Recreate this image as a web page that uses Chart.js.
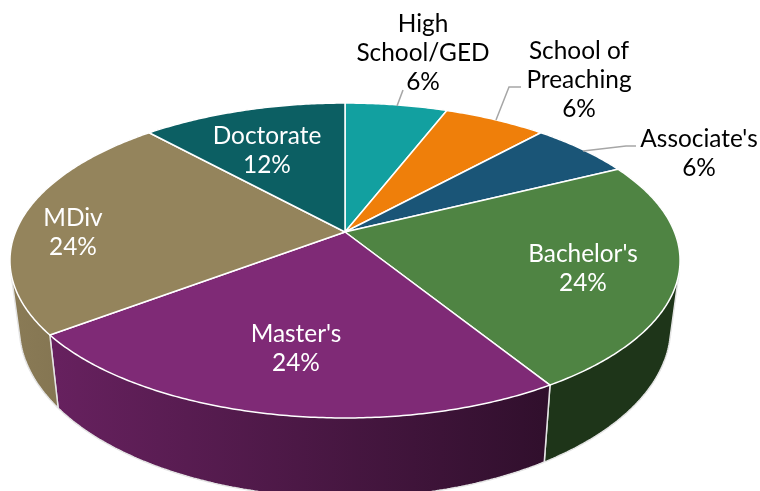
<!DOCTYPE html>
<html lang="en">
  <head>
    <meta charset="UTF-8" />
    <title>Degrees</title>
    <script src="https://cdn.jsdelivr.net/npm/chart.js@4"></script>
    <style>
      html, body { margin: 0; padding: 0; background: #fff; overflow: hidden; }
      #wrap { width: 760px; height: 491px; }
    </style>
  </head>
  <body>
    <div id="wrap"><canvas id="chart" width="760" height="491"></canvas></div>
    <script>
      const categories = ["High\nSchool/GED", "School of\nPreaching", "Associate's", "Bachelor's", "Master's", "MDiv", "Doctorate"];
      const values = [1, 1, 1, 4, 4, 4, 2];
      const topColors = ["#12a0a0", "#ef7f0a", "#1a5577", "#4f8443", "#7f2a76", "#94845c", "#0c5f63"];
      const wallLeft = ["#0c6b6b", "#a05506", "#113a50", "#1e3519", "#67215f", "#8a7b56", "#083f42"];
      const wallRight = ["#0c6b6b", "#a05506", "#113a50", "#1e3519", "#300f2c", "#7a6b4b", "#083f42"];
      const labelAt = [[423, 24], [579, 51], [699, 139], [583, 254], [296, 334], [73, 218], [267, 136]];
      const labelColors = ["#000", "#000", "#000", "#fff", "#fff", "#fff", "#fff"];
      const leaders = [
        [[397, 106], [403, 90]],
        [[496, 120], [509, 87], [521, 87]],
        [[583, 151], [626, 146], [636, 146]],
      ];

      // perspective of the lid: back edge is squeezed, front edge is stretched
      const tilt = 0.181, spreadX = 329.5, spreadY = 152.3;
      // rim bottom relative to the lid
      const bottomX = 0.972, bottomY = 1.08, bottomShift = 46.2;

      function project(arc, angle) {
        const u = Math.cos(angle);
        const v = -Math.sin(angle);
        const w = 1 + tilt * v;
        return [arc.x + (spreadX * u) / w, arc.y - (spreadY * v) / w];
      }

      function drop(arc, p) {
        return [arc.x + (p[0] - arc.x) * bottomX, bottomY * p[1] + bottomShift];
      }

      function rimPoints(arc) {
        const pts = [];
        const steps = Math.ceil((arc.endAngle - arc.startAngle) / 0.01);
        for (let i = 0; i <= steps; i++) {
          pts.push(project(arc, arc.startAngle + ((arc.endAngle - arc.startAngle) * i) / steps));
        }
        return pts;
      }

      function tracePath(ctx, pts) {
        ctx.beginPath();
        pts.forEach((p, k) => (k ? ctx.lineTo(p[0], p[1]) : ctx.moveTo(p[0], p[1])));
      }

      function signedArea(q) {
        return q.reduce((s, p, i) => {
          const n = q[(i + 1) % q.length];
          return s + p[0] * n[1] - n[0] * p[1];
        }, 0);
      }

      const pie3d = {
        id: "pie3d",
        beforeDatasetDraw(chart, args) {
          const ctx = chart.ctx;
          const arcs = args.meta.data;
          ctx.save();
          ctx.lineJoin = "round";

          // walls first, the lids cover the back ones
          arcs.forEach((arc, i) => {
            const rim = rimPoints(arc);
            const low = rim.map((p) => drop(arc, p));
            const xs = rim.concat(low).map((p) => p[0]);
            const g = ctx.createLinearGradient(Math.min(...xs), 0, Math.max(...xs), 0);
            g.addColorStop(0, wallLeft[i]);
            g.addColorStop(1, wallRight[i]);

            // all quads in one path, same winding, so no seams show
            ctx.beginPath();
            const front = [];
            for (let k = 0; k < rim.length - 1; k++) {
              const q = [rim[k], rim[k + 1], low[k + 1], low[k]];
              const isFront = signedArea(q) < 0;
              front.push(isFront);
              const o = isFront ? q : q.slice().reverse();
              ctx.moveTo(o[0][0], o[0][1]);
              o.slice(1).forEach((p) => ctx.lineTo(p[0], p[1]));
              ctx.closePath();
            }
            ctx.fillStyle = g;
            ctx.fill();

            // outline only where the wall is really seen
            ctx.strokeStyle = "#e4e4e4";
            ctx.lineWidth = 1.5;
            ctx.beginPath();
            front.forEach((f, k) => {
              if (f) {
                ctx.moveTo(low[k][0], low[k][1]);
                ctx.lineTo(low[k + 1][0], low[k + 1][1]);
              }
              if (k > 0 && f !== front[k - 1]) {
                ctx.moveTo(rim[k][0], rim[k][1]);
                ctx.lineTo(low[k][0], low[k][1]);
              }
            });
            if (front[0]) {
              ctx.moveTo(rim[0][0], rim[0][1]);
              ctx.lineTo(low[0][0], low[0][1]);
            }
            if (front[front.length - 1]) {
              const e = rim.length - 1;
              ctx.moveTo(rim[e][0], rim[e][1]);
              ctx.lineTo(low[e][0], low[e][1]);
            }
            ctx.stroke();
          });

          arcs.forEach((arc, i) => {
            const rim = rimPoints(arc);
            tracePath(ctx, [[arc.x, arc.y]].concat(rim));
            ctx.closePath();
            ctx.fillStyle = topColors[i];
            ctx.fill();
            ctx.strokeStyle = "#fff";
            ctx.lineWidth = 1.5;
            ctx.stroke();
          });
          ctx.restore();
          return false;
        },
        afterDatasetsDraw(chart) {
          const ctx = chart.ctx;
          const total = values.reduce((a, b) => a + b, 0);
          ctx.save();
          ctx.strokeStyle = "#a6a6a6";
          ctx.lineWidth = 1.5;
          leaders.forEach((line) => {
            tracePath(ctx, line);
            ctx.stroke();
          });
          ctx.font = "24.4px Lato";
          ctx.textAlign = "center";
          ctx.textBaseline = "middle";
          categories.forEach((name, i) => {
            const lines = name.split("\n").concat(Math.round((values[i] / total) * 100) + "%");
            ctx.fillStyle = labelColors[i];
            lines.forEach((t, k) => ctx.fillText(t, labelAt[i][0], labelAt[i][1] + k * 29));
          });
          ctx.restore();
        },
      };

      new Chart(document.getElementById("chart"), {
        type: "pie",
        data: {
          labels: categories,
          datasets: [{ data: values, backgroundColor: topColors }],
        },
        options: {
          responsive: false,
          animation: false,
          layout: { padding: { right: 70, bottom: 27 } },
          plugins: { legend: { display: false }, tooltip: { enabled: false } },
        },
        plugins: [pie3d],
      });
    </script>
  </body>
</html>
